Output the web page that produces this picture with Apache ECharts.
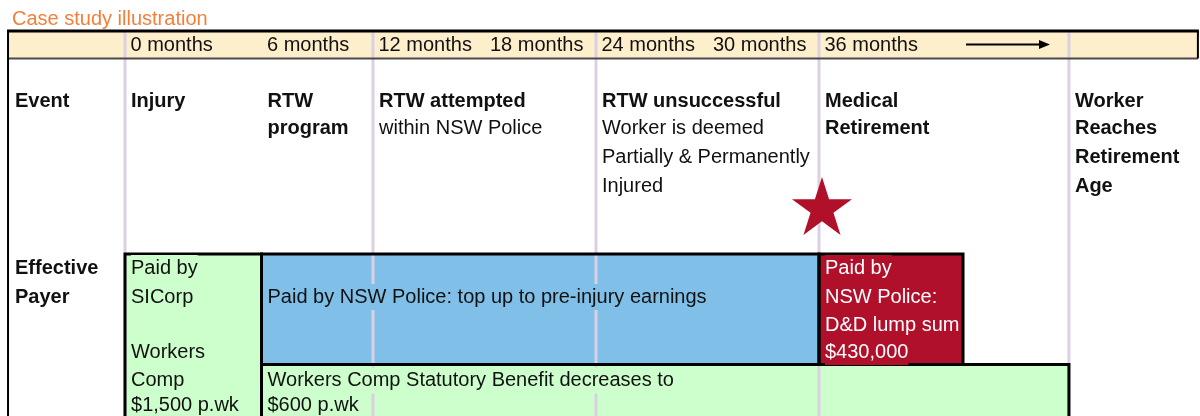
<!DOCTYPE html>
<html>
<head>
<meta charset="utf-8">
<script src="https://cdn.jsdelivr.net/npm/echarts@6/dist/echarts.min.js"></script>
<style>
html,body{margin:0;padding:0;background:#ffffff;}
#chart{width:1200px;height:416px;}
</style>
</head>
<body>
<div id="chart"></div>
<script>
// ---------------- data ----------------
const chartTitle = 'Case study illustration';
const timeLabels = ['0 months', '6 months', '12 months', '18 months', '24 months', '30 months', '36 months'];
const timeMonths = [0, 6, 12, 18, 24, 30, 36];
const RETIREMENT = 49.45;              // start of the "reaches retirement age" column, in months on the drawing's scale
const columnEdges = [0, 12, 24, 36, RETIREMENT];
const eventMonths = [0, 6, 12, 24, 36, RETIREMENT];
const eventTitles = [['Injury'], ['RTW', 'program'], ['RTW attempted'], ['RTW unsuccessful'], ['Medical', 'Retirement'], ['Worker', 'Reaches', 'Retirement', 'Age']];
const eventNotes = [[], [], ['within NSW Police'], ['Worker is deemed', 'Partially & Permanently', 'Injured'], [], []];
const rowLabels = [['Event'], ['Effective', 'Payer']];
const payerNames = ['SICorp', 'NSW Police top up', 'NSW Police D&D lump sum', 'Workers Comp statutory'];
const payerStart = [0, 6, 36, 6];
const payerEnd = [6, 36, 43.75, RETIREMENT];
const payerBand = ['full', 'top', 'top', 'bottom'];
const payerText = [
  ['Paid by', 'SICorp', '', 'Workers', 'Comp', '$1,500 p.wk'],
  ['', 'Paid by NSW Police: top up to pre-injury earnings'],
  ['Paid by', 'NSW Police:', 'D&D lump sum', '$430,000'],
  ['', '', '', '', 'Workers Comp Statutory Benefit decreases to', '$600 p.wk']
];
const milestoneMonths = [36];

// ---------------- layout & style ----------------
const X_MIN = -8.072, X_MAX = 56.503;
const LEFT_EDGE = -7.64, RIGHT_EDGE = 56.39, ZERO_EDGE = -1.345;
const ARROW_FROM = 43.91, ARROW_TO = 48.43;
const HEADER_TOP = 31, HEADER_BOTTOM = 58.5, HEADER_MID = 45.5;
const EVENT_LINES = [101, 128.5, 157, 186];
const PAY_LINES = [268, 297, 325, 352, 380.5, 405.5];
const PAY_TOP = 254, PAY_MID = 364.5, PAY_BOTTOM = 425;
const STAR_Y = 206;
const FONT = '"Liberation Sans", Arial, Helvetica, sans-serif';
const payerFill = ['#ccffcc', '#80bfe7', '#b1102b', '#ccffcc'];
const payerInk = ['#111111', '#111111', '#ffffff', '#111111'];
const GRID_COLOR = '#dbd0e2';
const INK = '#111111';

function edge(m) { return m === 0 ? ZERO_EDGE : m; }
function bandY(b) {
  if (b === 'full') return [PAY_TOP, PAY_BOTTOM];
  if (b === 'top') return [PAY_TOP, PAY_MID];
  return [PAY_MID, PAY_BOTTOM];
}
function rectOf(api, x0, x1, y0, y1) {
  const a = api.coord([x0, y0]), b = api.coord([x1, y1]);
  return { x: a[0], y: a[1], width: b[0] - a[0], height: b[1] - a[1] };
}
function txt(api, m, y, text, opts) {
  const p = api.coord([m, y]);
  const o = opts || {};
  const style = {
    text: text,
    x: p[0] + (o.dx == null ? 6 : o.dx),
    y: p[1],
    fill: o.fill || INK,
    font: (o.bold ? 'bold ' : '') + '20px ' + FONT,
    align: 'left',
    verticalAlign: 'middle'
  };
  if (o.bg) { style.backgroundColor = o.bg; style.padding = [3, 0, 3, 0]; }
  return { type: 'text', style: style };
}

const chart = echarts.init(document.getElementById('chart'), null, { renderer: 'canvas' });

const option = {
  animation: false,
  backgroundColor: '#ffffff',
  title: {
    text: chartTitle,
    left: 12,
    top: 9,
    padding: 0,
    textStyle: { color: '#f37f3b', fontSize: 20, fontWeight: 'normal', fontFamily: FONT, lineHeight: 20 }
  },
  grid: { left: 0, right: 0, top: 0, bottom: 0, outerBoundsMode: 'none' },
  xAxis: { type: 'value', min: X_MIN, max: X_MAX, show: false },
  yAxis: { type: 'value', min: 0, max: 416, inverse: true, show: false },
  series: [
    // header band
    {
      type: 'custom', z: 1, silent: true,
      data: [[LEFT_EDGE, RIGHT_EDGE]],
      renderItem: function (params, api) {
        return { type: 'rect', shape: rectOf(api, api.value(0), api.value(1), HEADER_TOP, HEADER_BOTTOM), style: { fill: '#feefcc' } };
      }
    },
    // payer boxes (fill)
    {
      type: 'custom', z: 2, silent: true,
      data: payerStart.map(function (s, i) { return [edge(s), payerEnd[i], i]; }),
      encode: { x: [0, 1] },
      renderItem: function (params, api) {
        const i = api.value(2);
        const yy = bandY(payerBand[i]);
        return { type: 'rect', shape: rectOf(api, api.value(0), api.value(1), yy[0], yy[1]), style: { fill: payerFill[i] } };
      }
    },
    // column lines
    {
      type: 'custom', z: 3, silent: true,
      data: columnEdges.map(function (m) { return [edge(m)]; }),
      encode: { x: 0 },
      renderItem: function (params, api) {
        const a = api.coord([api.value(0), HEADER_TOP]), b = api.coord([api.value(0), PAY_BOTTOM]);
        return { type: 'line', shape: { x1: a[0], y1: a[1], x2: b[0], y2: b[1] }, style: { stroke: GRID_COLOR, lineWidth: 3 } };
      }
    },
    // red lump-sum box fill above the column line
    {
      type: 'custom', z: 3.5, silent: true,
      data: [[payerStart[2], payerEnd[2], 2]],
      encode: { x: [0, 1] },
      renderItem: function (params, api) {
        const i = api.value(2);
        const yy = bandY(payerBand[i]);
        return { type: 'rect', shape: rectOf(api, api.value(0), api.value(1), yy[0], yy[1]), style: { fill: payerFill[i] } };
      }
    },
    // outlines, frame and arrow
    {
      type: 'custom', z: 4, silent: true,
      data: payerStart.map(function (s, i) { return [edge(s), payerEnd[i], i]; }),
      encode: { x: [0, 1] },
      renderItem: function (params, api) {
        const i = api.value(2);
        const yy = bandY(payerBand[i]);
        const children = [{ type: 'rect', shape: rectOf(api, api.value(0), api.value(1), yy[0], yy[1]), style: { fill: 'none', stroke: '#000', lineWidth: 3 } }];
        if (params.dataIndex === 0) {
          const l0 = api.coord([LEFT_EDGE, HEADER_TOP]), l1 = api.coord([LEFT_EDGE, PAY_BOTTOM]);
          const r0 = api.coord([RIGHT_EDGE, HEADER_TOP]), r1 = api.coord([RIGHT_EDGE, HEADER_BOTTOM]);
          const hb0 = api.coord([LEFT_EDGE, HEADER_BOTTOM]);
          children.push({ type: 'line', shape: { x1: l0[0], y1: hb0[1], x2: r1[0], y2: hb0[1] }, style: { stroke: '#4a4a4a', lineWidth: 2 } });
          children.push({ type: 'line', shape: { x1: l0[0], y1: l0[1], x2: l1[0], y2: l1[1] }, style: { stroke: '#000', lineWidth: 2 } });
          children.push({ type: 'line', shape: { x1: r0[0], y1: r0[1], x2: r1[0], y2: r1[1] }, style: { stroke: '#000', lineWidth: 2 } });
          children.push({ type: 'line', shape: { x1: l0[0] - 1, y1: l0[1], x2: r0[0] + 1, y2: r0[1] }, style: { stroke: '#000', lineWidth: 3 } });
          // thin column divider between the 0 and 6 month payer boxes in the lower band
          const s0 = api.coord([6, PAY_MID + 1.5]), s1 = api.coord([6, PAY_BOTTOM]);
          children.push({ type: 'line', shape: { x1: s0[0], y1: s0[1], x2: s1[0], y2: s1[1] }, style: { stroke: '#c2b8ca', lineWidth: 3 } });
          // arrow in the header
          const a0 = api.coord([ARROW_FROM, HEADER_MID - 1]), a1 = api.coord([ARROW_TO, HEADER_MID - 1]);
          children.push({ type: 'line', shape: { x1: a0[0], y1: a0[1], x2: a1[0] - 9, y2: a1[1] }, style: { stroke: '#000', lineWidth: 2 } });
          children.push({ type: 'polygon', shape: { points: [[a1[0], a1[1]], [a1[0] - 11, a1[1] - 4.5], [a1[0] - 11, a1[1] + 4.5]] }, style: { fill: '#000' } });
        }
        return { type: 'group', children: children };
      }
    },
    // text
    {
      type: 'custom', z: 5, silent: true,
      data: [[0]],
      encode: { x: 0 },
      renderItem: function (params, api) {
        const c = [];
        timeMonths.forEach(function (m, i) {
          c.push(txt(api, edge(m), HEADER_MID, timeLabels[i], { dx: 5.5 }));
        });
        rowLabels[0].forEach(function (s, k) { c.push(txt(api, LEFT_EDGE, EVENT_LINES[k], s, { bold: true, dx: 7 })); });
        rowLabels[1].forEach(function (s, k) { c.push(txt(api, LEFT_EDGE, PAY_LINES[k], s, { bold: true, dx: 7 })); });
        eventMonths.forEach(function (m, i) {
          const t = eventTitles[i];
          t.forEach(function (s, k) { c.push(txt(api, edge(m), EVENT_LINES[k], s, { bold: true })); });
          eventNotes[i].forEach(function (s, k) { c.push(txt(api, edge(m), EVENT_LINES[t.length + k], s, {})); });
        });
        payerText.forEach(function (lines, i) {
          lines.forEach(function (s, k) {
            if (s) c.push(txt(api, edge(payerStart[i]), PAY_LINES[k], s, { fill: payerInk[i], bg: payerFill[i] }));
          });
        });
        return { type: 'group', children: c };
      }
    },
    // milestone star
    {
      type: 'scatter', z: 6, silent: true,
      data: milestoneMonths.map(function (m) { return [m, STAR_Y]; }),
      symbol: 'path://M50 0 L61.23 34.55 L97.55 34.55 L68.16 55.9 L79.39 90.45 L50 69.1 L20.61 90.45 L31.84 55.9 L2.45 34.55 L38.77 34.55 Z',
      symbolSize: [60, 58],
      symbolOffset: [3, 0],
      itemStyle: { color: '#b1102b', opacity: 1 }
    }
  ]
};
chart.setOption(option);
</script>
</body>
</html>
